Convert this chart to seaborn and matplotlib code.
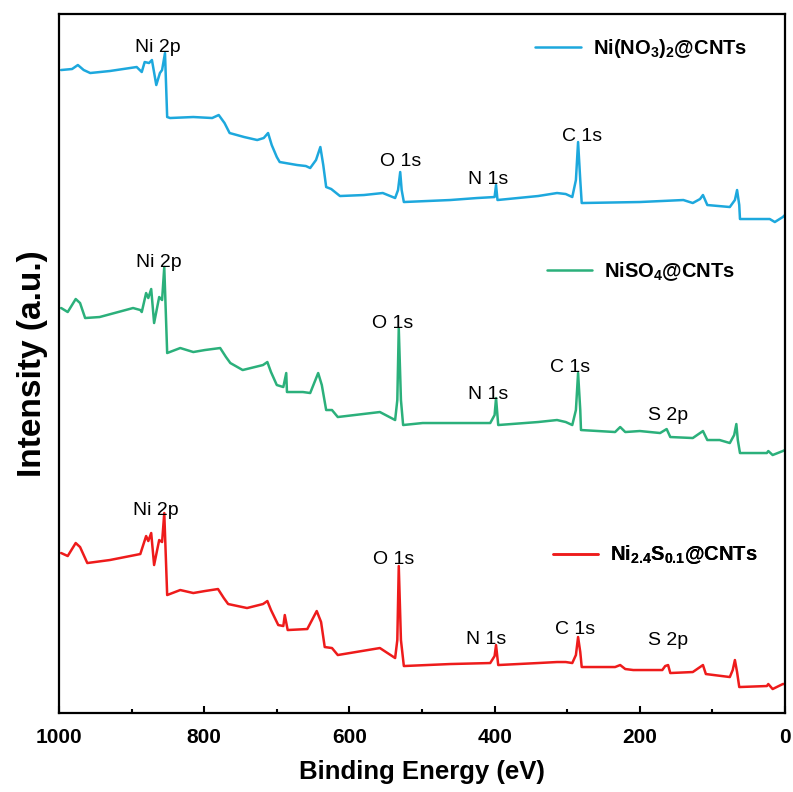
import pandas as pd
import seaborn as sns
from matplotlib import pyplot as plt
from matplotlib.ticker import MultipleLocator

# XPS survey spectra: binding energy (eV) and intensity (a.u., stacked)
be_nitrate = [997, 982, 974, 966, 957, 930, 893, 886, 882, 876, 872, 866, 861, 858, 854, 851, 847, 815,
              789, 780, 772, 765, 745, 727, 718, 712, 707, 700, 696, 672, 660, 654, 646, 640, 636, 632,
              625, 613, 580, 554, 537, 533, 530, 528, 525, 461, 424, 400, 398, 396, 340, 314, 302, 293,
              288, 285, 282, 280, 200, 140, 127, 117, 113, 107, 76, 69, 66, 63, 62, 21, 14, 3, 0]
int_nitrate = [643, 644, 648, 643, 640, 642, 646, 641, 651, 650, 653, 628, 640, 643, 660, 596, 595, 596,
               595, 598, 590, 580, 576, 573, 575, 580, 568, 556, 551, 548, 547, 545, 553, 566, 548, 526,
               524, 517, 518, 520, 515, 523, 541, 523, 511, 513, 515, 516, 528, 513, 517, 520, 519, 516,
               533, 571, 533, 510, 511, 513, 510, 514, 518, 508, 506, 513, 523, 508, 494, 494, 491, 496,
               498]

be_sulfate = [997, 988, 977, 971, 964, 944, 898, 888, 886, 880, 877, 873, 869, 862, 858, 855, 851, 833,
              815, 799, 778, 770, 764, 747, 719, 713, 708, 700, 691, 687, 686, 664, 654, 643, 638, 632,
              624, 616, 558, 537, 534, 532, 529, 526, 499, 461, 406, 400, 398, 395, 340, 314, 302, 293,
              288, 285, 282, 281, 234, 227, 220, 200, 172, 163, 158, 127, 113, 107, 90, 76, 70, 67, 65,
              62, 25, 23, 17, 3, 0]
int_sulfate = [405, 401, 414, 410, 395, 396, 405, 403, 401, 420, 415, 424, 390, 416, 413, 446, 360, 365,
               361, 363, 365, 356, 350, 343, 348, 351, 341, 328, 326, 340, 321, 321, 320, 340, 328, 303,
               303, 296, 301, 293, 313, 385, 313, 288, 290, 290, 290, 298, 315, 288, 291, 293, 291, 288,
               303, 340, 303, 283, 281, 286, 281, 282, 280, 284, 276, 275, 282, 273, 273, 270, 278, 289,
               273, 260, 260, 262, 258, 262, 263]

be_sulfide = [997, 988, 977, 971, 961, 930, 888, 880, 877, 873, 869, 862, 858, 855, 851, 833, 815, 799,
              781, 773, 767, 741, 719, 713, 708, 698, 691, 689, 685, 658, 645, 639, 634, 624, 616, 558,
              537, 534, 532, 529, 525, 461, 406, 400, 398, 395, 340, 314, 302, 293, 288, 285, 282, 280,
              234, 227, 220, 209, 169, 165, 161, 158, 127, 113, 109, 76, 72, 69, 66, 63, 25, 23, 17, 3, 0]
int_sulfide = [160, 157, 170, 166, 150, 153, 159, 177, 172, 180, 148, 173, 171, 200, 118, 123, 120, 122,
               124, 115, 109, 105, 109, 112, 103, 88, 87, 98, 83, 84, 102, 91, 66, 65, 58, 65,
               55, 73, 147, 73, 47, 49, 50, 57, 68, 48, 50, 51, 51, 50, 58, 76, 61, 46,
               46, 48, 44, 43, 43, 47, 48, 40, 41, 48, 39, 36, 43, 53, 41, 26, 27, 29, 24, 29, 29]

samples = [r'Ni(NO$_\mathbf{3}$)$_\mathbf{2}$@CNTs', r'NiSO$_\mathbf{4}$@CNTs',
           r'Ni$_\mathbf{2.4}$S$_\mathbf{0.1}$@CNTs']
colors = ['#1da8dd', '#2bb07b', '#ee1b1b']

# peak labels: (text, energy, intensity) for each spectrum
peaks_nitrate = [('Ni 2p', 864, 666), ('O 1s', 529, 552), ('N 1s', 409, 534), ('C 1s', 280, 577)]
peaks_sulfate = [('Ni 2p', 862, 451), ('O 1s', 540, 390), ('N 1s', 409, 319), ('C 1s', 296, 346),
                 ('S 2p', 161, 298)]
peaks_sulfide = [('Ni 2p', 866, 203), ('O 1s', 539, 154), ('N 1s', 412, 74), ('C 1s', 289, 84),
                 ('S 2p', 161, 73)]

df = pd.concat([
    pd.DataFrame({'BE': be_nitrate, 'Intensity': int_nitrate, 'Sample': samples[0]}),
    pd.DataFrame({'BE': be_sulfate, 'Intensity': int_sulfate, 'Sample': samples[1]}),
    pd.DataFrame({'BE': be_sulfide, 'Intensity': int_sulfide, 'Sample': samples[2]}),
])

sns.set_style('ticks')
plt.rcParams['font.family'] = ['Liberation Sans', 'DejaVu Sans']
plt.rcParams['mathtext.fontset'] = 'custom'
plt.rcParams['mathtext.rm'] = 'Liberation Sans'
plt.rcParams['mathtext.bf'] = 'Liberation Sans:bold'
plt.rcParams['text.color'] = 'black'
plt.rcParams['axes.labelcolor'] = 'black'
plt.rcParams['xtick.color'] = 'black'

fig = plt.figure(figsize=(7.93, 7.92), dpi=100)
ax = fig.add_axes([0.0744, 0.0997, 0.9155, 0.8826])

sns.lineplot(data=df, x='BE', y='Intensity', hue='Sample', palette=colors, hue_order=samples,
             estimator=None, sort=False, lw=1.8, legend=False, ax=ax)

ax.set_xlim(1000, 0)
ax.set_ylim(0, 699)
ax.xaxis.set_major_locator(MultipleLocator(200))
ax.xaxis.set_minor_locator(MultipleLocator(100))
ax.tick_params(axis='x', which='major', direction='in', length=5, width=1.5, labelsize=15, pad=11)
ax.tick_params(axis='x', which='minor', direction='in', length=3, width=1.5)
ax.set_yticks([])
for lab in ax.get_xticklabels():
    lab.set_fontweight('bold')
for sp in ax.spines.values():
    sp.set_linewidth(1.6)
    sp.set_color('black')

ax.set_xlabel('Binding Energy (eV)', fontsize=18.5, fontweight='bold', labelpad=9)
ax.set_ylabel('Intensity (a.u.)', fontsize=24, fontweight='bold', labelpad=8)

for peaks in [peaks_nitrate, peaks_sulfate, peaks_sulfide]:
    for name, e, v in peaks:
        ax.text(e, v, name, ha='center', va='center', fontsize=14)

lines = ax.get_lines()
legend_pos = [(0.656, 0.951), (0.672, 0.632), (0.680, 0.226)]
for line, label, pos in zip(lines, samples, legend_pos):
    leg = ax.legend([line], [label], loc='center left', bbox_to_anchor=pos, frameon=False,
                    borderpad=0, borderaxespad=0, handlelength=2.25, handletextpad=0.6,
                    prop={'weight': 'bold', 'size': 14.5})
    ax.add_artist(leg)

fig.savefig('out.png', dpi=100)
